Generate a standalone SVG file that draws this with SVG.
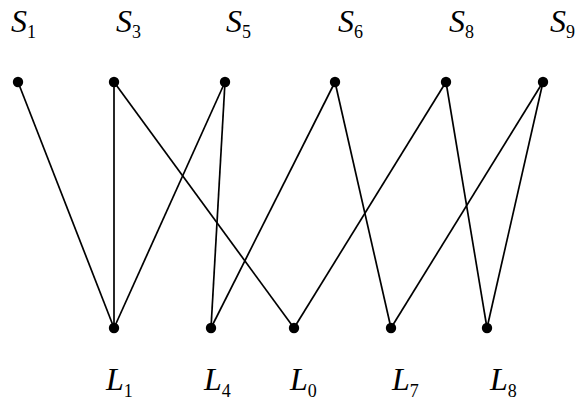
<svg xmlns="http://www.w3.org/2000/svg" width="587" height="401" viewBox="0 0 587 401">
<style>
.e{stroke:#000;stroke-width:1.7;fill:none}
.n{fill:#000}
.t{font-family:"Liberation Serif","Times New Roman",serif;font-style:italic;font-size:32px;fill:#000}
.s{font-style:normal;font-size:18px}
</style>
<rect width="587" height="401" fill="#fff"/>
<g id="edges">
<line class="e" x1="18" y1="82" x2="114" y2="328"/>
<line class="e" x1="114" y1="82" x2="114" y2="328"/>
<line class="e" x1="114" y1="82" x2="294" y2="328"/>
<line class="e" x1="225" y1="82" x2="114" y2="328"/>
<line class="e" x1="225" y1="82" x2="211" y2="328"/>
<line class="e" x1="335" y1="82" x2="211" y2="328"/>
<line class="e" x1="335" y1="82" x2="391" y2="328"/>
<line class="e" x1="446" y1="82" x2="294" y2="328"/>
<line class="e" x1="446" y1="82" x2="487" y2="328"/>
<line class="e" x1="543" y1="82" x2="391" y2="328"/>
<line class="e" x1="543" y1="82" x2="487" y2="328"/>
</g>
<g id="S1"><circle class="n" cx="18" cy="82" r="5.2"/><text class="t" x="11" y="32">S<tspan class="s" dy="6">1</tspan></text></g>
<g id="S3"><circle class="n" cx="114" cy="82" r="5.2"/><text class="t" x="116" y="32">S<tspan class="s" dy="6">3</tspan></text></g>
<g id="S5"><circle class="n" cx="225" cy="82" r="5.2"/><text class="t" x="226" y="32">S<tspan class="s" dy="6">5</tspan></text></g>
<g id="S6"><circle class="n" cx="335" cy="82" r="5.2"/><text class="t" x="338" y="32">S<tspan class="s" dy="6">6</tspan></text></g>
<g id="S8"><circle class="n" cx="446" cy="82" r="5.2"/><text class="t" x="449" y="32">S<tspan class="s" dy="6">8</tspan></text></g>
<g id="S9"><circle class="n" cx="543" cy="82" r="5.2"/><text class="t" x="550" y="32">S<tspan class="s" dy="6">9</tspan></text></g>
<g id="L1"><circle class="n" cx="114" cy="328" r="5.2"/><text class="t" x="106" y="390">L<tspan class="s" dy="7">1</tspan></text></g>
<g id="L4"><circle class="n" cx="211" cy="328" r="5.2"/><text class="t" x="204" y="390">L<tspan class="s" dy="7">4</tspan></text></g>
<g id="L0"><circle class="n" cx="294" cy="328" r="5.2"/><text class="t" x="290" y="390">L<tspan class="s" dy="7">0</tspan></text></g>
<g id="L7"><circle class="n" cx="391" cy="328" r="5.2"/><text class="t" x="392" y="390">L<tspan class="s" dy="7">7</tspan></text></g>
<g id="L8"><circle class="n" cx="487" cy="328" r="5.2"/><text class="t" x="490" y="390">L<tspan class="s" dy="7">8</tspan></text></g>
</svg>
